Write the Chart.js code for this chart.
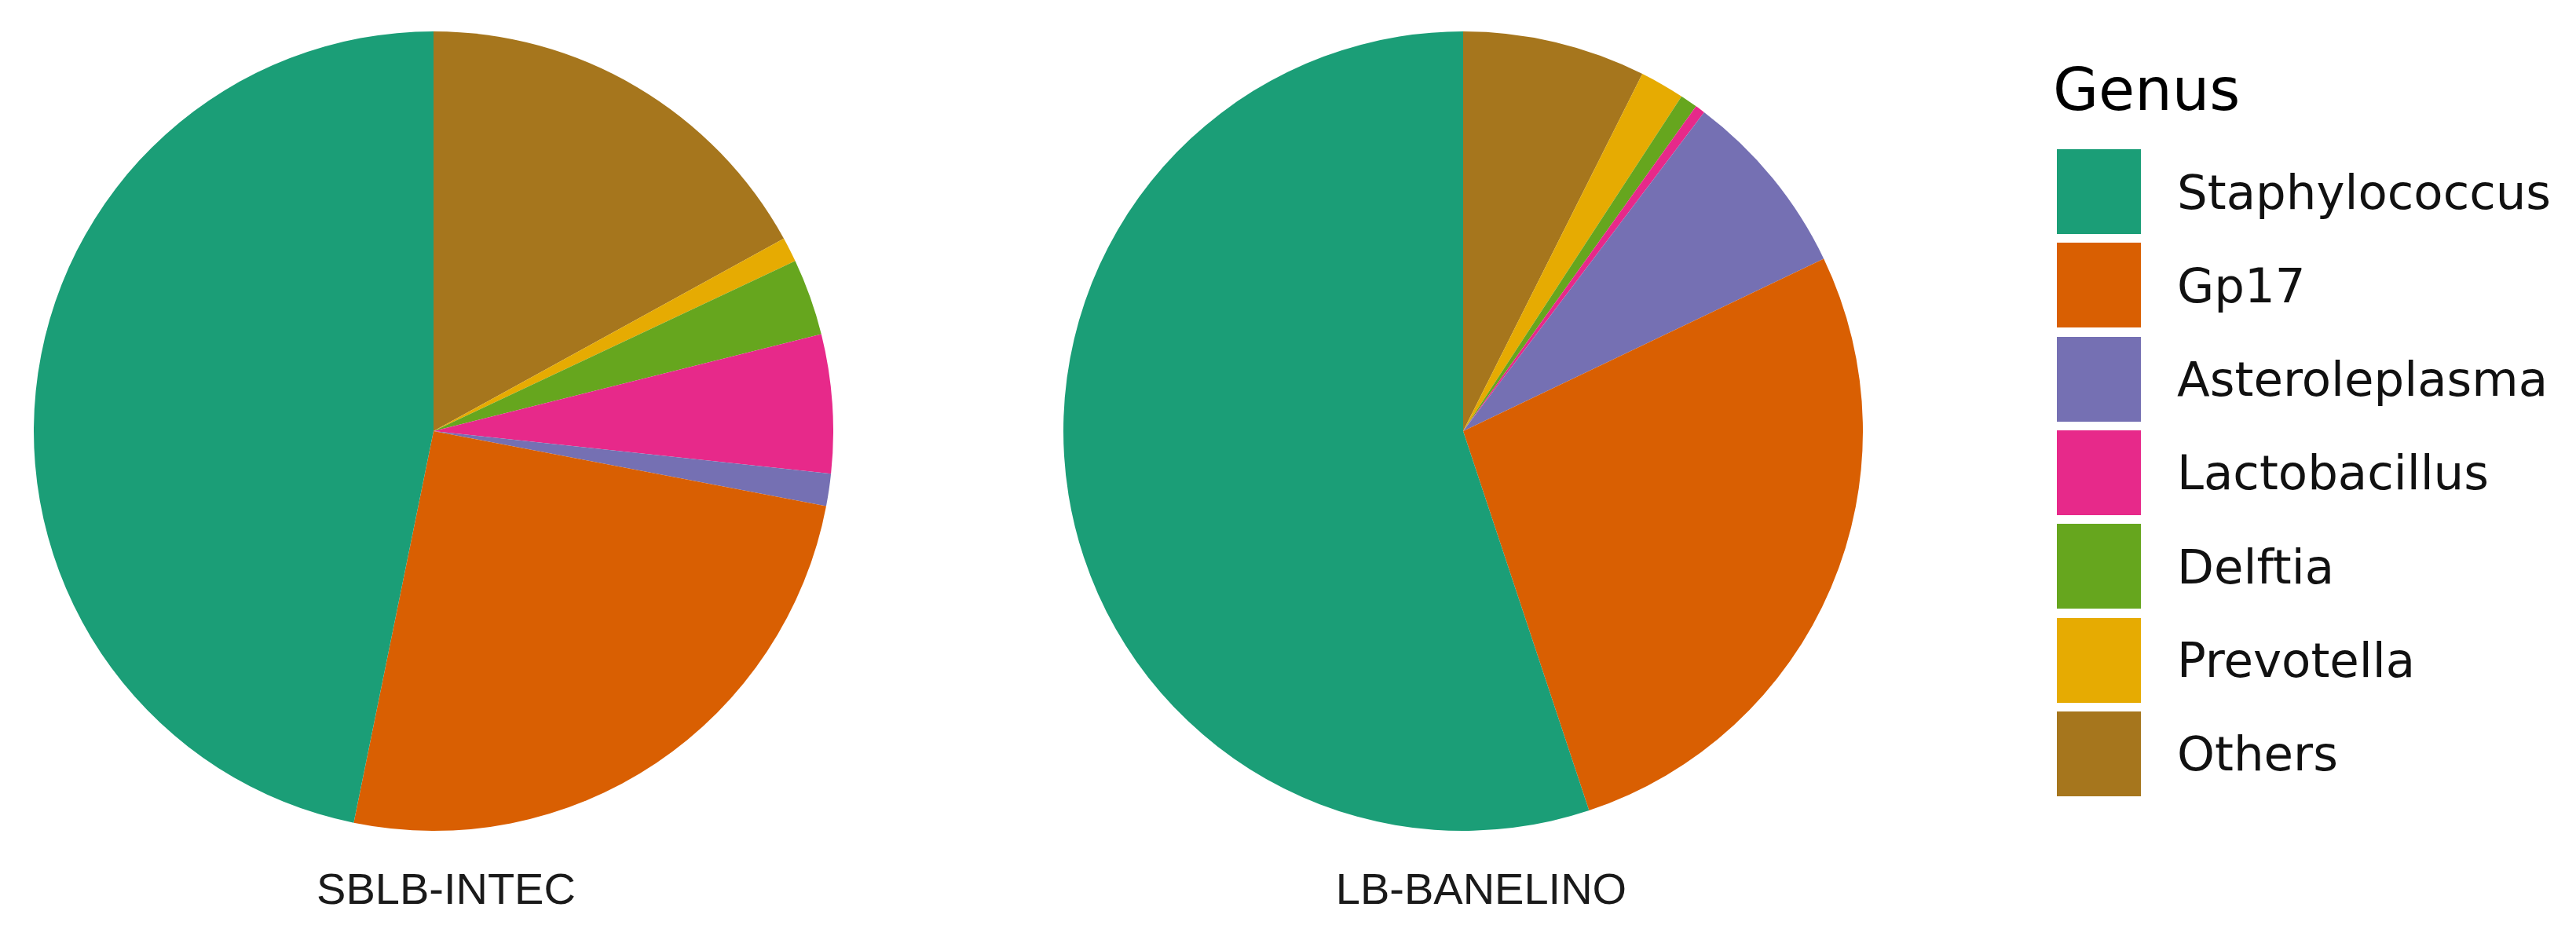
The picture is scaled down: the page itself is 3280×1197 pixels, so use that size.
<!DOCTYPE html>
<html>
<head>
<meta charset="utf-8">
<script src="https://cdn.jsdelivr.net/npm/chart.js@4/dist/chart.umd.min.js"></script>
<style>
  html, body { margin: 0; padding: 0; background: #ffffff; }
  body { width: 3280px; height: 1197px; position: relative; overflow: hidden; }
  canvas { position: absolute; }
  .plabel { position: absolute; width: 600px; text-align: center; font-family: "Liberation Sans", Arial, sans-serif; font-size: 56px; line-height: 1; color: #1a1a1a; white-space: nowrap; }
  #legend-title { position: absolute; left: 2614px; top: 77px; font-family: "DejaVu Sans", sans-serif; font-size: 75px; line-height: 1; color: #000; white-space: nowrap; }
  .lrow { position: absolute; left: 2619px; height: 108px; display: flex; align-items: center; }
  .lsw { width: 107px; height: 108px; flex: none; }
  .ltxt { margin-left: 46px; font-family: "DejaVu Sans", sans-serif; font-size: 61px; line-height: 1; color: #111; white-space: nowrap; }
</style>
</head>
<body>
<canvas id="pie1" width="1018" height="1018" style="left:43px;top:40px;"></canvas>
<canvas id="pie2" width="1018" height="1018" style="left:1354px;top:40px;"></canvas>
<div class="plabel" id="lab1" style="left:268px;top:1104px;"></div>
<div class="plabel" id="lab2" style="left:1586px;top:1104px;"></div>
<div id="legend-title"></div>
<div id="legend"></div>
<script>
// ---- data (legend order) ----
const legendTitle = "Genus";
const genera = ["Staphylococcus", "Gp17", "Asteroleplasma", "Lactobacillus", "Delftia", "Prevotella", "Others"];
const colors = ["#1B9E77", "#D95F02", "#7570B3", "#E7298A", "#66A61E", "#E6AB02", "#A6761D"];
const sampleNames = ["SBLB-INTEC", "LB-BANELINO"];
// relative abundance (%)
const sblbIntec = [46.8, 25.2, 1.3, 5.6, 3.1, 1.0, 17.0];
const lbBanelino = [55.1, 27.0, 7.6, 0.4, 0.7, 1.8, 7.4];

// slices are drawn clockwise from 12 o'clock in reverse legend order
function makePie(id, values) {
  const labels = genera.slice().reverse();
  const data = values.slice().reverse();
  const bg = colors.slice().reverse();
  return new Chart(document.getElementById(id), {
    type: 'pie',
    data: { labels: labels, datasets: [{ data: data, backgroundColor: bg, borderWidth: 0, hoverOffset: 0 }] },
    options: {
      responsive: false,
      maintainAspectRatio: false,
      animation: false,
      rotation: 0,
      layout: { padding: 0, autoPadding: false },
      plugins: { legend: { display: false }, tooltip: { enabled: false }, title: { display: false } },
      events: []
    }
  });
}
makePie('pie1', sblbIntec);
makePie('pie2', lbBanelino);

document.getElementById('lab1').textContent = sampleNames[0];
document.getElementById('lab2').textContent = sampleNames[1];

// legend
document.getElementById('legend-title').textContent = legendTitle;
const leg = document.getElementById('legend');
genera.forEach((g, i) => {
  const row = document.createElement('div');
  row.className = 'lrow';
  row.style.top = (190 + i * 119.3) + 'px';
  const sw = document.createElement('div');
  sw.className = 'lsw';
  sw.style.background = colors[i];
  const tx = document.createElement('div');
  tx.className = 'ltxt';
  tx.textContent = g;
  row.appendChild(sw);
  row.appendChild(tx);
  leg.appendChild(row);
});
</script>
</body>
</html>
